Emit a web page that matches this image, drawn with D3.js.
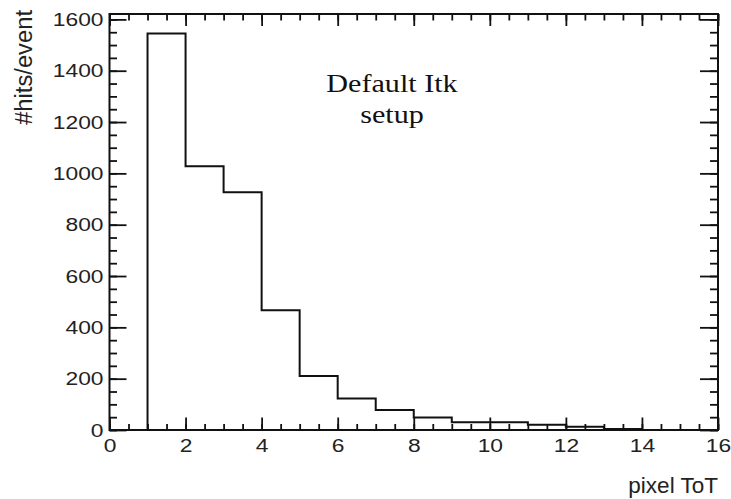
<!DOCTYPE html>
<meta charset="utf-8">
<html>
<head>
<style>
  body { margin: 0; background: #fff; }
  svg text { font-family: "Liberation Sans", Arial, Helvetica, sans-serif; fill: #222; }
  .axis line { stroke: #111; stroke-width: 1.8; }
</style>
</head>
<body>
<div id="tot"></div>
<script src="https://d3js.org/d3.v7.min.js"></script>
<script>
  // histogram of pixel ToT, one value per bin [edge, edge+1)
  var binEdges = [0, 1, 2, 3, 4, 5, 6, 7, 8, 9, 10, 11, 12, 13, 14, 15, 16];
  var hitsPerEvent = [0, 1545, 1028, 926, 467, 210, 123, 78, 49, 30, 30, 20, 13, 4, 0, 0];
  var xMajorTicks = [0, 2, 4, 6, 8, 10, 12, 14, 16];
  var yMajorTicks = [0, 200, 400, 600, 800, 1000, 1200, 1400, 1600];
  var yMax = 1621;
  var noteLines = ["Default Itk", "setup"];

  var margin = {top: 14, right: 13, bottom: 69, left: 109.5},
      width = 731 - margin.left - margin.right,
      height = 499 - margin.top - margin.bottom;

  var root = d3.select("#tot")
    .append("svg")
      .attr("width", 731)
      .attr("height", 499);
  var svg = root.append("g")
      .attr("transform", "translate(" + margin.left + "," + margin.top + ")");

  var x = d3.scaleLinear().domain([0, 16]).range([0, width]);
  var y = d3.scaleLinear().domain([0, yMax]).range([height, 0]);

  // step line, last edge closes back on the baseline
  var steps = hitsPerEvent.map(function(v, i) { return {x: binEdges[i], y: v}; });
  steps.push({x: binEdges[binEdges.length - 1], y: 0});
  svg.append("path")
    .datum(steps)
    .attr("fill", "none")
    .attr("stroke", "#111")
    .attr("stroke-width", 2)
    .attr("d", d3.line()
      .curve(d3.curveStepAfter)
      .x(function(d) { return x(d.x); })
      .y(function(d) { return y(d.y); }));

  var xMinor = d3.range(0, 16.001, 0.5);
  var yMinor = d3.range(0, 1600.001, 50);

  function addAxis(axis, tx, ty, noLabels) {
    var g = svg.append("g").attr("class", "axis")
      .attr("transform", "translate(" + tx + "," + ty + ")")
      .call(noLabels ? axis.tickFormat("") : axis);
    g.select(".domain").remove();
    return g;
  }

  // minor ticks all round
  addAxis(d3.axisBottom(x).tickValues(xMinor).tickSize(-6), 0, height, true);
  addAxis(d3.axisTop(x).tickValues(xMinor).tickSize(-6.5), 0, 0, true);
  addAxis(d3.axisLeft(y).tickValues(yMinor).tickSize(-7.5), 0, 0, true);
  addAxis(d3.axisRight(y).tickValues(yMinor).tickSize(-8), width, 0, true);

  // major ticks
  addAxis(d3.axisTop(x).tickValues(xMajorTicks).tickSize(-12), 0, 0, true);
  addAxis(d3.axisRight(y).tickValues(yMajorTicks).tickSize(-18), width, 0, true);

  var xAx = addAxis(d3.axisBottom(x).tickValues(xMajorTicks).tickSize(-12.5).tickPadding(9)
    .tickFormat(d3.format("d")), 0, height, false);
  xAx.selectAll("text")
    .style("font-size", "19px")
    .attr("transform", "scale(1.2,1)");

  var yAx = addAxis(d3.axisLeft(y).tickValues(yMajorTicks).tickSize(-17).tickPadding(6)
    .tickFormat(d3.format("d")), 0, 0, false);
  yAx.selectAll("text")
    .style("font-size", "19px")
    .attr("x", -6 / 1.2)
    .attr("transform", "scale(1.2,1)");

  // frame
  svg.append("rect")
    .attr("width", width)
    .attr("height", height)
    .attr("fill", "none")
    .attr("stroke", "#111")
    .attr("stroke-width", 2);

  // axis titles
  root.append("text")
    .attr("text-anchor", "end")
    .attr("transform", "translate(32,10) rotate(-90) scale(1.08,1.1)")
    .style("font-size", "22px")
    .text("#hits/event");

  root.append("text")
    .attr("x", margin.left + width)
    .attr("y", 493)
    .attr("text-anchor", "end")
    .style("font-size", "22.5px")
    .text("pixel ToT");

  // note inside the frame
  root.append("g")
    .attr("transform", "translate(392,0) scale(1.16,1)")
    .selectAll("text")
    .data(noteLines)
    .enter()
    .append("text")
      .attr("x", 0)
      .attr("y", function(d, i) { return 91.7 + i * 31.6; })
      .attr("text-anchor", "middle")
      .style("font-family", "'Liberation Serif', 'Times New Roman', serif")
      .style("font-size", "26px")
      .style("fill", "#111")
      .text(function(d) { return d; });
</script>
</body>
</html>
